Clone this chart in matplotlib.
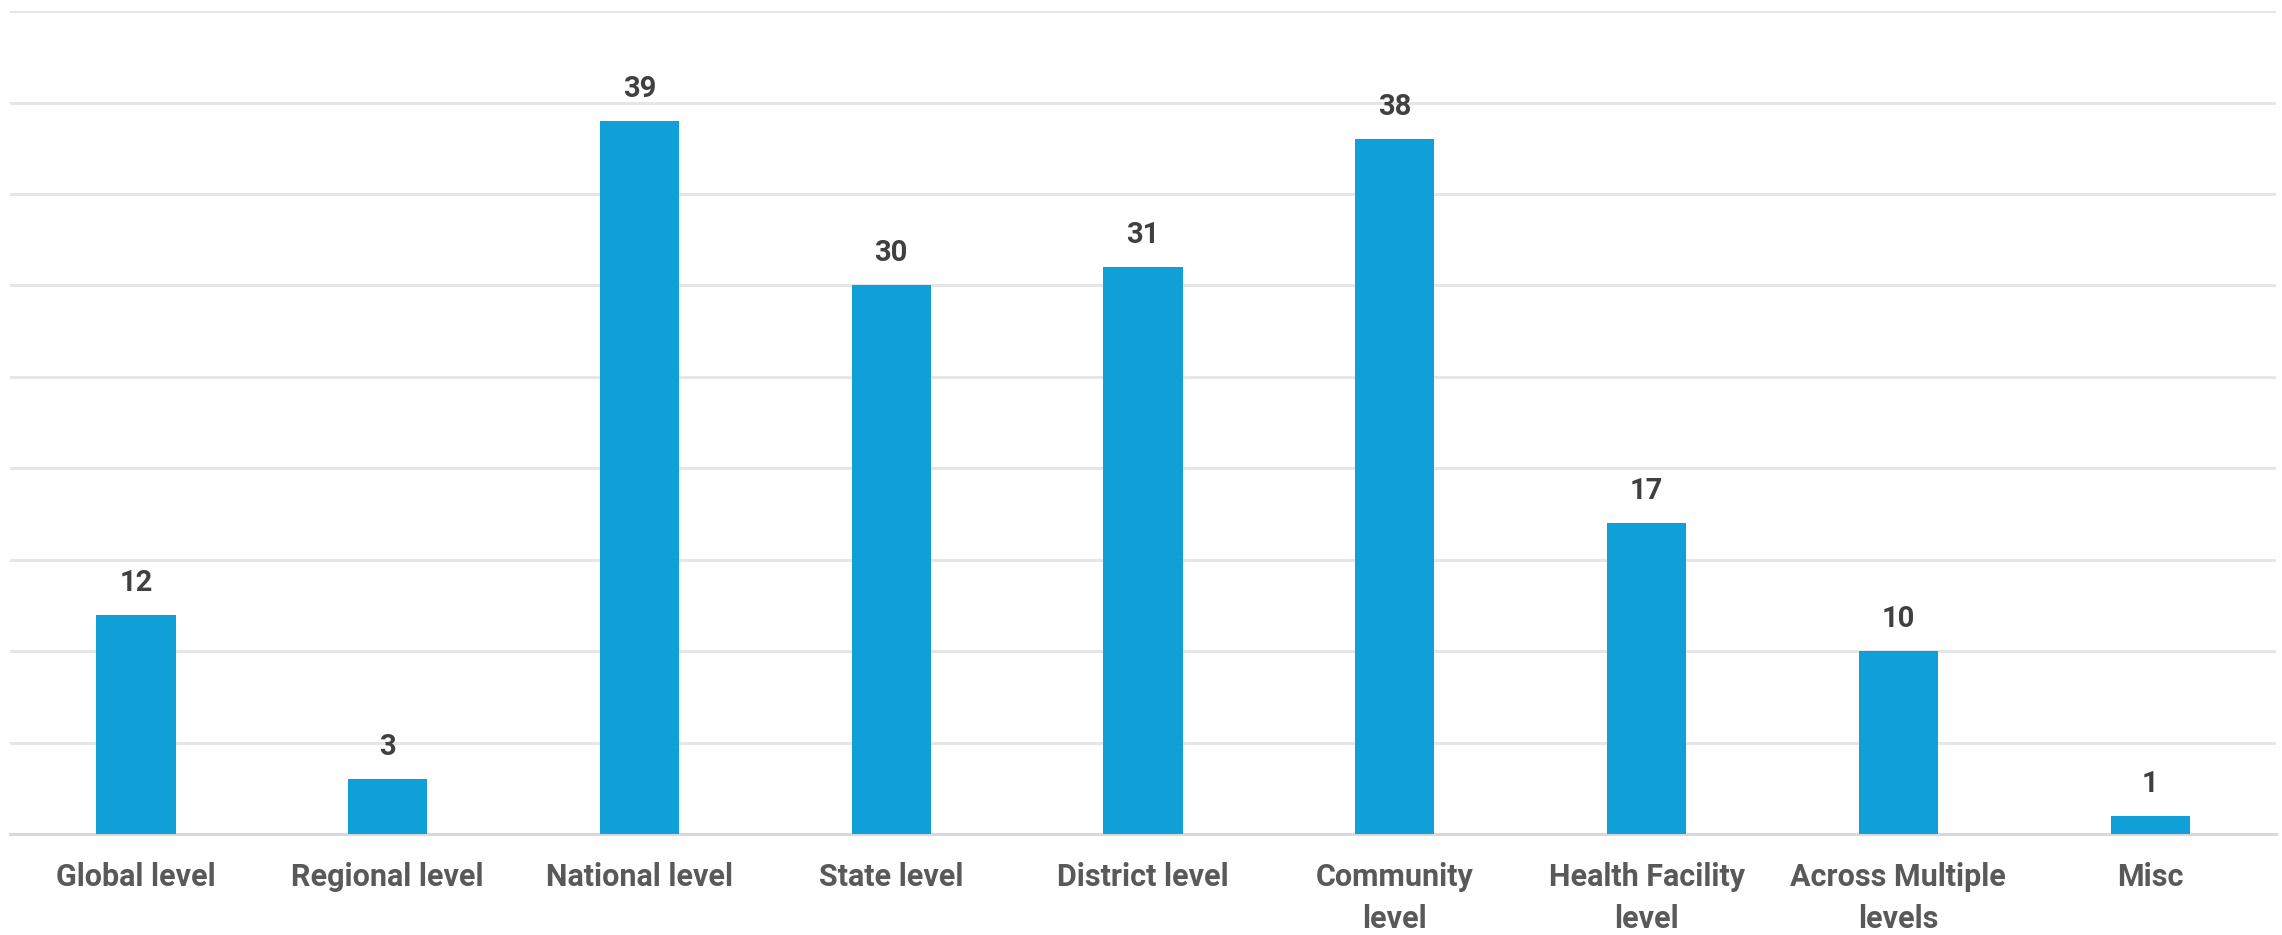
import matplotlib.pyplot as plt
from matplotlib import font_manager

# data
categories = ["Global level", "Regional level", "National level", "State level",
              "District level", "Community\nlevel", "Health Facility\nlevel",
              "Across Multiple\nlevels", "Misc"]
counts = [12, 3, 39, 30, 31, 38, 17, 10, 1]

names = {f.name for f in font_manager.fontManager.ttflist}
font = "Liberation Sans Narrow" if "Liberation Sans Narrow" in names else "Roboto"

fig = plt.figure(figsize=(22.82, 9.35), dpi=100)
ax = fig.add_axes([0.0044, 0.108, 0.993, 0.880])

x = range(len(categories))
bars = ax.bar(x, counts, width=0.315, color="#119fd7", zorder=3)
ax.bar_label(bars, labels=[str(c) for c in counts], padding=13,
             fontsize=21, fontweight="bold", color="#404040", family="Roboto")

ax.set_xlim(-0.5, len(categories) - 0.5)
ax.set_ylim(0, 45)
ax.set_yticks(range(0, 46, 5))
ax.yaxis.grid(True, color="#e6e6e6", linewidth=2.2, zorder=0)
ax.tick_params(axis="y", left=False, labelleft=False)
ax.tick_params(axis="x", length=0, pad=20)
ax.set_xticks(list(x))
ax.set_xticklabels(categories, fontsize=22, fontweight="bold", color="#595959",
                   family=font, linespacing=1.5)
for s in ["top", "right", "left"]:
    ax.spines[s].set_visible(False)
ax.spines["bottom"].set_color("#d9d9d9")
ax.spines["bottom"].set_linewidth(2.2)

fig.savefig("out.png", dpi=100)
